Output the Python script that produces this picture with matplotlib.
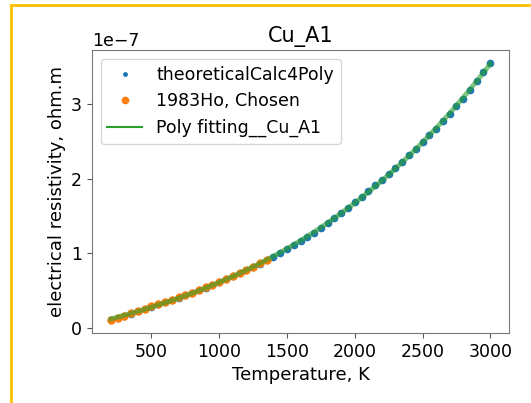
import numpy as np
import matplotlib
matplotlib.use("Agg")
import matplotlib.pyplot as plt
from matplotlib.lines import Line2D
from matplotlib.ticker import MultipleLocator

# Theoretical calculation (K, 1e-7 ohm.m)
theo_T = [200, 250, 300, 350, 400, 450, 500, 550, 600, 650, 700, 750, 800, 850, 900, 950,
          1000, 1050, 1100, 1150, 1200, 1250, 1300, 1350, 1400, 1450, 1500, 1550, 1600,
          1650, 1700, 1750, 1800, 1850, 1900, 1950, 2000, 2050, 2100, 2150, 2200, 2250,
          2300, 2350, 2400, 2450, 2500, 2550, 2600, 2650, 2700, 2750, 2800, 2850, 2900,
          2950, 3000]
theo_rho = [0.110, 0.135, 0.160, 0.190, 0.220, 0.252, 0.285, 0.315, 0.345, 0.375, 0.405,
            0.437, 0.470, 0.505, 0.540, 0.575, 0.610, 0.650, 0.690, 0.730, 0.770, 0.815,
            0.860, 0.905, 0.950, 1.000, 1.050, 1.105, 1.160, 1.217, 1.275, 1.337, 1.400,
            1.467, 1.535, 1.607, 1.680, 1.755, 1.830, 1.907, 1.985, 2.065, 2.145, 2.227,
            2.310, 2.397, 2.485, 2.577, 2.670, 2.767, 2.865, 2.967, 3.070, 3.185, 3.300,
            3.425, 3.550]

# 1983Ho chosen data (K, 1e-7 ohm.m)
ho_T = [200, 250, 300, 350, 400, 450, 500, 550, 600, 650, 700, 750, 800, 850, 900, 950,
        1000, 1050, 1100, 1150, 1200, 1250, 1300, 1350]
ho_rho = [0.105, 0.133, 0.165, 0.193, 0.223, 0.254, 0.287, 0.317, 0.347, 0.377, 0.407,
          0.439, 0.472, 0.507, 0.542, 0.577, 0.612, 0.652, 0.692, 0.732, 0.773, 0.818,
          0.863, 0.910]

title = "Cu_A1"
xlabel = "Temperature, K"
ylabel = "electrical resistivity, ohm.m"
legend_labels = ["theoreticalCalc4Poly", "1983Ho, Chosen", "Poly fitting__Cu_A1"]
poly_degree = 3

T_t = np.array(theo_T, dtype=float)
r_t = np.array(theo_rho) * 1e-7
T_h = np.array(ho_T, dtype=float)
r_h = np.array(ho_rho) * 1e-7

coef = np.polyfit(T_t, r_t, poly_degree)
T_fit = np.linspace(T_t.min(), T_t.max(), 300)
r_fit = np.polyval(coef, T_fit)

fig = plt.figure(figsize=(5.31, 4.03), dpi=100)
ax = fig.add_axes([0.173, 0.174, 0.786, 0.702])

ax.plot(T_t, r_t, linestyle="none", marker="o", markersize=4.5, color="#1f77b4",
        label=legend_labels[0])
ax.plot(T_h, r_h, linestyle="none", marker="o", markersize=5, color="#ff7f0e",
        label=legend_labels[1])
ax.plot(T_fit, r_fit, color="#2ca02c", linewidth=3.5, alpha=0.6, label=legend_labels[2])

ax.yaxis.set_major_locator(MultipleLocator(1e-7))
ax.set_title(title, fontsize=15)
ax.set_xlabel(xlabel, fontsize=13)
ax.set_ylabel(ylabel, fontsize=13)
ax.tick_params(labelsize=12.5, color="#555555")
ax.yaxis.get_offset_text().set_fontsize(12.5)
for s in ax.spines.values():
    s.set_color("#777777")

handles = [
    Line2D([], [], linestyle="none", marker="o", markersize=2.5, color="#1f77b4"),
    Line2D([], [], linestyle="none", marker="o", markersize=4.5, color="#ff7f0e"),
    Line2D([], [], color="#2ca02c", linewidth=1.5),
]
ax.legend(handles, legend_labels, loc="upper left", fontsize=12.5)

# orange screenshot border
fig.add_artist(Line2D([11 / 531, 11 / 531], [0, 1 - 5 / 403], transform=fig.transFigure,
                      color="#FFC000", linewidth=2))
fig.add_artist(Line2D([11 / 531, 1], [1 - 5 / 403, 1 - 5 / 403], transform=fig.transFigure,
                      color="#FFC000", linewidth=2))

fig.savefig("out.png", dpi=100)
